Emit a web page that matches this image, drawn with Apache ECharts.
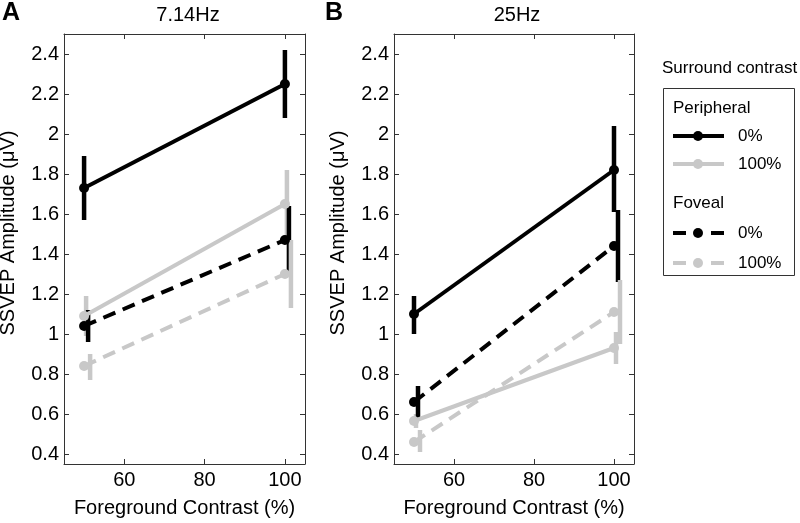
<!DOCTYPE html>
<html>
<head>
<meta charset="utf-8">
<script src="https://cdn.jsdelivr.net/npm/echarts@6/dist/echarts.min.js"></script>
<style>html,body{margin:0;padding:0;background:#fff}#c{width:800px;height:523px}</style>
</head>
<body>
<div id="c"></div>
<script>
// ---- data ----
var xLevels = [50, 100];
var xTicks = [60, 80, 100];
var yTicks = [0.4, 0.6, 0.8, 1, 1.2, 1.4, 1.6, 1.8, 2, 2.2, 2.4];
var panelTitles = ['7.14Hz', '25Hz'];
var panelLetters = ['A', 'B'];

// Panel A (7.14Hz)
var A_P0 = [1.73, 2.25], A_P0_lo = [1.57, 2.08], A_P0_hi = [1.89, 2.42];
var A_P100 = [1.09, 1.65], A_P100_lo = [0.99, 1.48], A_P100_hi = [1.19, 1.82];
var A_F0 = [1.04, 1.47], A_F0_lo = [0.96, 1.31], A_F0_hi = [1.12, 1.64];
var A_F100 = [0.84, 1.30], A_F100_lo = [0.77, 1.13], A_F100_hi = [0.90, 1.47];
// Panel B (25Hz)
var B_P0 = [1.10, 1.82], B_P0_lo = [1.00, 1.61], B_P0_hi = [1.19, 2.04];
var B_P100 = [0.565, 0.93], B_P100_lo = [0.53, 0.85], B_P100_hi = [0.60, 1.01];
var B_F0 = [0.66, 1.44], B_F0_lo = [0.58, 1.26], B_F0_hi = [0.74, 1.62];
var B_F100 = [0.46, 1.11], B_F100_lo = [0.41, 0.95], B_F100_hi = [0.52, 1.27];

// ---- styles ----
var BLACK = '#000000', GRAY = '#c8c8c8', AX = '#333333';
var FONT = '"Liberation Sans", Arial, sans-serif';
var grids = [
  {left: 64, top: 34, width: 241, height: 434},
  {left: 394, top: 34, width: 240, height: 434}
];
var styles = [
  {color: BLACK, dash: 'solid', off: 0},
  {color: GRAY, dash: 'solid', off: 0.5},
  {color: BLACK, dash: [13, 8], off: 1.0},
  {color: GRAY, dash: [13, 8], off: 1.5}
];
var panels = [
  [[A_P0, A_P0_lo, A_P0_hi], [A_P100, A_P100_lo, A_P100_hi], [A_F0, A_F0_lo, A_F0_hi], [A_F100, A_F100_lo, A_F100_hi]],
  [[B_P0, B_P0_lo, B_P0_hi], [B_P100, B_P100_lo, B_P100_hi], [B_F0, B_F0_lo, B_F0_hi], [B_F100, B_F100_lo, B_F100_hi]]
];

var xAxes = [], yAxes = [], series = [];
grids.forEach(function (g, gi) {
  xAxes.push({
    gridIndex: gi, type: 'value', position: 'bottom', min: 45, max: 105,
    axisLine: {onZero: false, lineStyle: {color: AX, width: 1}},
    axisTick: {inside: true, length: 5, customValues: xTicks, lineStyle: {color: AX}},
    axisLabel: {customValues: xTicks, color: '#000', fontSize: 20, fontFamily: FONT, margin: 6},
    splitLine: {show: false},
    name: 'Foreground Contrast (%)', nameLocation: 'middle', nameGap: 34,
    nameTextStyle: {color: '#000', fontSize: 20, fontFamily: FONT}
  });
  xAxes.push({
    gridIndex: gi, type: 'value', position: 'top', min: 45, max: 105,
    axisLine: {onZero: false, lineStyle: {color: AX, width: 1}},
    axisTick: {inside: true, length: 5, customValues: xTicks, lineStyle: {color: AX}},
    axisLabel: {show: false}, splitLine: {show: false}
  });
  yAxes.push({
    gridIndex: gi, type: 'value', position: 'left', min: 0.35, max: 2.5,
    axisLine: {onZero: false, lineStyle: {color: AX, width: 1}},
    axisTick: {inside: true, length: 5, customValues: yTicks, lineStyle: {color: AX}},
    axisLabel: {customValues: yTicks, color: '#000', fontSize: 20, fontFamily: FONT, margin: 5},
    splitLine: {show: false}
  });
  yAxes.push({
    gridIndex: gi, type: 'value', position: 'right', min: 0.35, max: 2.5,
    axisLine: {onZero: false, lineStyle: {color: AX, width: 1}},
    axisTick: {inside: true, length: 5, customValues: yTicks, lineStyle: {color: AX}},
    axisLabel: {show: false}, splitLine: {show: false}
  });

  panels[gi].forEach(function (s, si) {
    var st = styles[si];
    var vals = s[0], lo = s[1], hi = s[2];
    var lineData = xLevels.map(function (x, i) { return [x, vals[i]]; });
    var errData = xLevels.map(function (x, i) { return [x + st.off, lo[i], hi[i]]; });
    series.push({
      type: 'line', xAxisIndex: gi * 2, yAxisIndex: gi * 2, data: lineData,
      symbol: 'circle', symbolSize: 10, showSymbol: true,
      lineStyle: {color: st.color, width: 4, type: st.dash},
      itemStyle: {color: st.color}, animation: false, silent: true
    });
    series.push({
      type: 'custom', xAxisIndex: gi * 2, yAxisIndex: gi * 2, data: errData,
      animation: false, silent: true,
      renderItem: (function (color) {
        return function (params, api) {
          var p1 = api.coord([api.value(0), api.value(1)]);
          var p2 = api.coord([api.value(0), api.value(2)]);
          return {type: 'line', shape: {x1: p1[0], y1: p1[1], x2: p2[0], y2: p2[1]},
                  style: {stroke: color, lineWidth: 4.5, lineCap: 'butt'}};
        };
      })(st.color)
    });
  });
});

// ---- legend & titles (graphic) ----
var graphic = [];
function txt(x, y, s, opt) {
  var o = {type: 'text', x: x, y: y, style: Object.assign({text: s, fill: '#000', font: '17px ' + FONT, textVerticalAlign: 'middle'}, opt || {})};
  graphic.push(o);
}
// panel letters
txt(2, 13, panelLetters[0], {font: 'bold 25px ' + FONT});
txt(325, 13, panelLetters[1], {font: 'bold 25px ' + FONT});
// titles
txt(188, 15, panelTitles[0], {font: '20px ' + FONT, textAlign: 'center'});
txt(517, 15, panelTitles[1], {font: '20px ' + FONT, textAlign: 'center'});
// y titles
[8, 338].forEach(function (x) {
  graphic.push({type: 'text', x: x, y: 233, rotation: Math.PI / 2,
    style: {text: 'SSVEP Amplitude (\u03bcV)', fill: '#000', font: '20px ' + FONT, textAlign: 'center', textVerticalAlign: 'middle'}});
});
// legend
txt(662, 68, 'Surround contrast');
graphic.push({type: 'rect', shape: {x: 663.5, y: 88.5, width: 131, height: 187}, style: {fill: 'none', stroke: AX, lineWidth: 1}});
txt(673, 108, 'Peripheral');
txt(673, 203, 'Foveal');
var legRows = [
  {y: 136, st: styles[0], label: '0%'},
  {y: 164, st: styles[1], label: '100%'},
  {y: 233, st: styles[2], label: '0%'},
  {y: 263, st: styles[3], label: '100%'}
];
legRows.forEach(function (r) {
  graphic.push({type: 'line', shape: {x1: 673, y1: r.y, x2: 724, y2: r.y},
    style: {stroke: r.st.color, lineWidth: 4, lineDash: r.st.dash === 'solid' ? null : [13, 25]}});
  graphic.push({type: 'circle', shape: {cx: 698, cy: r.y, r: 5}, style: {fill: r.st.color}});
  txt(738, r.y, r.label);
});

var chart = echarts.init(document.getElementById('c'), null, {renderer: 'canvas'});
chart.setOption({
  animation: false,
  backgroundColor: '#fff',
  grid: grids,
  xAxis: xAxes,
  yAxis: yAxes,
  series: series,
  graphic: graphic
});
</script>
</body>
</html>
